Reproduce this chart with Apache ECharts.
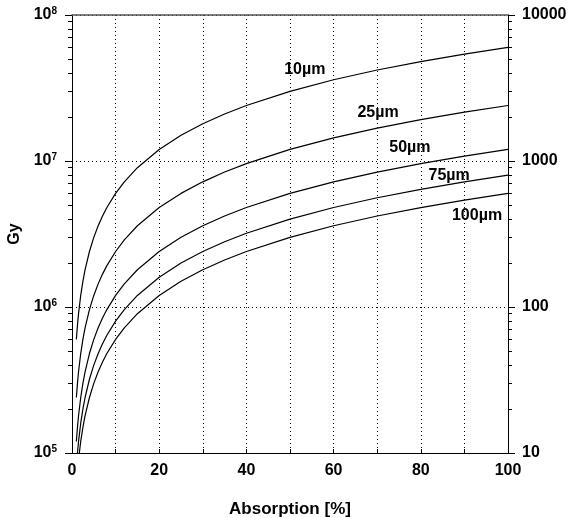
<!DOCTYPE html>
<html>
<head>
<meta charset="utf-8">
<script src="https://cdn.jsdelivr.net/npm/echarts@6/dist/echarts.min.js"></script>
<style>
html,body{margin:0;padding:0;background:#fff;}
#main{width:575px;height:518px;}
</style>
</head>
<body>
<div id="main"></div>
<script>
// absorption [%] sample points
var absorption = [1, 1.25, 1.5, 2, 2.5, 3, 4, 5, 6, 7, 8, 10, 12, 15, 20, 25, 30, 35, 40, 50, 60, 70, 80, 90, 100];
// dose [Gy]
var dose10 = [6.0e5, 7.5e5, 9.0e5, 1.2e6, 1.5e6, 1.8e6, 2.4e6, 3.0e6, 3.6e6, 4.2e6, 4.8e6, 6.0e6, 7.2e6, 9.0e6, 1.2e7, 1.5e7, 1.8e7, 2.1e7, 2.4e7, 3.0e7, 3.6e7, 4.2e7, 4.8e7, 5.4e7, 6.0e7];
var dose25 = [2.4e5, 3.0e5, 3.6e5, 4.8e5, 6.0e5, 7.2e5, 9.6e5, 1.2e6, 1.44e6, 1.68e6, 1.92e6, 2.4e6, 2.88e6, 3.6e6, 4.8e6, 6.0e6, 7.2e6, 8.4e6, 9.6e6, 1.2e7, 1.44e7, 1.68e7, 1.92e7, 2.16e7, 2.4e7];
var dose50 = [1.2e5, 1.5e5, 1.8e5, 2.4e5, 3.0e5, 3.6e5, 4.8e5, 6.0e5, 7.2e5, 8.4e5, 9.6e5, 1.2e6, 1.44e6, 1.8e6, 2.4e6, 3.0e6, 3.6e6, 4.2e6, 4.8e6, 6.0e6, 7.2e6, 8.4e6, 9.6e6, 1.08e7, 1.2e7];
var dose75 = [8.0e4, 1.0e5, 1.2e5, 1.6e5, 2.0e5, 2.4e5, 3.2e5, 4.0e5, 4.8e5, 5.6e5, 6.4e5, 8.0e5, 9.6e5, 1.2e6, 1.6e6, 2.0e6, 2.4e6, 2.8e6, 3.2e6, 4.0e6, 4.8e6, 5.6e6, 6.4e6, 7.2e6, 8.0e6];
var dose100 = [6.0e4, 7.5e4, 9.0e4, 1.2e5, 1.5e5, 1.8e5, 2.4e5, 3.0e5, 3.6e5, 4.2e5, 4.8e5, 6.0e5, 7.2e5, 9.0e5, 1.2e6, 1.5e6, 1.8e6, 2.1e6, 2.4e6, 3.0e6, 3.6e6, 4.2e6, 4.8e6, 5.4e6, 6.0e6];

var seriesNames = ['10µm', '25µm', '50µm', '75µm', '100µm'];
var seriesDose = [dose10, dose25, dose50, dose75, dose100];
// where the curve labels sit [absorption, Gy]
var labelPos = [[53.4, 4.2e7], [70.2, 2.13e7], [77.5, 1.23e7], [86.5, 8.0e6], [92.9, 4.2e6]];

var FONT = '"Liberation Sans", Arial, sans-serif';
var chart = echarts.init(document.getElementById('main'));

var series = seriesNames.map(function (name, i) {
    return {
        name: name,
        type: 'line',
        xAxisIndex: 0,
        yAxisIndex: 0,
        showSymbol: false,
        symbol: 'none',
        clip: true,
        lineStyle: {color: '#000', width: 1.2},
        data: absorption.map(function (x, j) { return [x, seriesDose[i][j]]; }),
        markPoint: {
            symbol: 'rect',
            symbolSize: 1,
            itemStyle: {color: 'rgba(0,0,0,0)'},
            label: {
                show: true, position: 'inside', formatter: '{b}',
                color: '#000', fontFamily: FONT, fontWeight: 'bold', fontSize: 16
            },
            data: [{name: name, coord: labelPos[i]}]
        }
    };
});

var option = {
    animation: false,
    backgroundColor: '#fff',
    grid: {left: 72, right: 67, top: 15, bottom: 65, outerBoundsMode: 'none'},
    xAxis: [{
        type: 'value', min: 0, max: 100, interval: 10, position: 'bottom',
        name: 'Absorption [%]', nameLocation: 'middle', nameGap: 48,
        nameTextStyle: {color: '#000', fontFamily: FONT, fontWeight: 'bold', fontSize: 17},
        axisLine: {show: true, onZero: false, lineStyle: {color: '#000', width: 1}},
        axisTick: {show: true, inside: true, length: 4, lineStyle: {color: '#000'}},
        axisLabel: {
            color: '#000', fontFamily: FONT, fontWeight: 'bold', fontSize: 16, margin: 10,
            formatter: function (v) { return v % 20 === 0 ? v : ''; }
        },
        splitLine: {show: true, lineStyle: {color: '#000', type: [1, 3], width: 1}}
    }, {
        // top frame line
        type: 'value', min: 0, max: 100, position: 'top',
        axisLine: {show: true, onZero: false, lineStyle: {color: '#555', width: 1.5}},
        axisTick: {show: false}, axisLabel: {show: false}, splitLine: {show: false}
    }],
    yAxis: [{
        type: 'log', logBase: 10, min: 1e5, max: 1e8, position: 'left',
        name: 'Gy', nameLocation: 'middle', nameGap: 41, nameRotate: 90,
        nameTextStyle: {color: '#000', fontFamily: FONT, fontWeight: 'bold', fontSize: 16},
        axisLine: {show: true, onZero: false, lineStyle: {color: '#000', width: 1}},
        axisTick: {show: true, length: 7, lineStyle: {color: '#000'}},
        minorTick: {show: true, splitNumber: 9, length: 4, lineStyle: {color: '#000', width: 1}},
        axisLabel: {
            margin: 15, fontFamily: FONT,
            formatter: function (v) {
                return '{b|10}{s|' + Math.round(Math.log10(v)) + '}';
            },
            rich: {
                b: {color: '#000', fontFamily: FONT, fontWeight: 'bold', fontSize: 16},
                s: {color: '#000', fontFamily: FONT, fontWeight: 'bold', fontSize: 10, padding: [0, 0, 8, 0]}
            }
        },
        splitLine: {show: true, lineStyle: {color: '#000', type: [1, 3], width: 1}}
    }, {
        type: 'log', logBase: 10, min: 10, max: 10000, position: 'right',
        name: 'Mrad', nameLocation: 'middle', nameGap: 37, nameRotate: 90,
        nameTextStyle: {color: '#000', fontFamily: FONT, fontWeight: 'bold', fontSize: 16},
        axisLine: {show: true, onZero: false, lineStyle: {color: '#000', width: 1}},
        axisTick: {show: true, length: 7, lineStyle: {color: '#000'}},
        minorTick: {show: true, splitNumber: 9, length: 4, lineStyle: {color: '#000', width: 1}},
        axisLabel: {color: '#000', fontFamily: FONT, fontWeight: 'bold', fontSize: 16, margin: 14,
            formatter: function (v) { return String(Math.round(v)); }},
        splitLine: {show: false}
    }],
    series: series
};
chart.setOption(option);
</script>
</body>
</html>
